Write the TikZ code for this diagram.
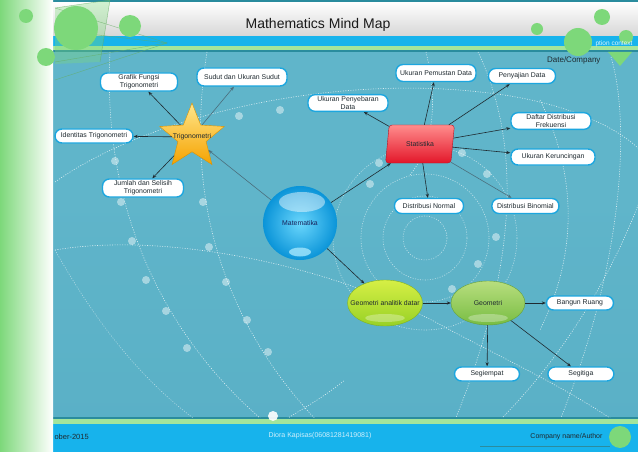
\documentclass[tikz,border=0pt]{standalone}
\usepackage{fontspec}
\setmainfont{Liberation Sans}
\usetikzlibrary{arrows.meta,positioning,shapes.geometric}
\definecolor{Body}{HTML}{60B5CA}
\definecolor{BodyDeep}{HTML}{57AEC5}
\definecolor{Band}{HTML}{17B3EC}
\definecolor{BandGreen}{HTML}{A3E59C}
\definecolor{Rule}{HTML}{2A8C9E}
\definecolor{Deco}{HTML}{7DD87A}
\definecolor{LeafLine}{HTML}{1CA6DF}
\definecolor{Ink}{HTML}{1F2A30}
\definecolor{InkSoft}{HTML}{4B6F7D}
\definecolor{StarTop}{HTML}{FFE78C}
\definecolor{StarBot}{HTML}{F5A200}
\definecolor{StatTop}{HTML}{FF8C8C}
\definecolor{StatBot}{HTML}{E3172A}
\definecolor{GadTop}{HTML}{D6EF45}
\definecolor{GadBot}{HTML}{98D126}
\definecolor{GeoTop}{HTML}{B8DE7E}
\definecolor{GeoBot}{HTML}{78BD43}
\definecolor{BallIn}{HTML}{6AD6FC}
\definecolor{BallOut}{HTML}{0A94D8}

\begin{document}
\begin{tikzpicture}[x=1pt,y=-1pt,
      mapfont/.style={font=\fontsize{6.9}{7.6}\selectfont},
      leaf/.style={draw=LeafLine,line width=1.4pt,fill=white,rounded corners=7pt,
        align=center,inner sep=2pt,minimum height=14pt,mapfont,text=Ink},
      arrow/.style={-{Stealth[length=4pt,width=3.2pt]},color=Ink,line width=0.6pt},
      faint/.style={arrow,color=InkSoft},
      dots/.style={white,dash pattern=on 1pt off 1.5pt,line width=0.6pt,opacity=.75},
      bead/.style={fill=white,opacity=.45}
    ]
      \useasboundingbox (0,0) rectangle (638,452);
      % frame
      \fill[Body] (53,52) rectangle (638,418);
      \shade[top color=Body,bottom color=BodyDeep,opacity=.6] (53,200) rectangle (638,418);
      \shade[top color=white,bottom color=black!16] (53,2) rectangle (638,36);
      \fill[Rule] (53,0) rectangle (638,2);
      \fill[Band] (53,36) rectangle (638,46);
      \fill[BandGreen] (53,46) rectangle (638,50);
      \fill[Rule] (53,50) rectangle (638,52);
      \fill[Rule] (53,417) rectangle (638,419);
      \fill[BandGreen] (53,419) rectangle (638,424);
      \fill[Band] (53,424) rectangle (638,452);
      \shade[left color=Deco,right color=white] (0,0) rectangle (53,452);

      % dotted background curves
      \begin{scope}
        \clip (53,52) rectangle (638,417);
        \draw[dots] (55,182) .. controls (150,115) and (330,75) .. (480,92);
        \draw[dots] (480,92) .. controls (560,100) and (615,125) .. (640,150);
        \draw[dots] (55,250) .. controls (160,232) and (330,262) .. (450,330);
        \draw[dots] (450,330) .. controls (530,372) and (590,400) .. (640,440);
        \draw[dots] (110,52) .. controls (100,250) and (200,370) .. (272,428);
        \draw[dots] (207,52) .. controls (180,220) and (240,340) .. (318,422);
        \draw[dots,opacity=.5] (55,250) .. controls (100,330) and (150,390) .. (210,430);
        \draw[dots] (272,428) .. controls (300,410) and (320,400) .. (345,380);
        \foreach \r in {22,42,64,92}
          \draw[dots,opacity=.6] (425,238) circle (\r);
        \draw[dots] (426,52) .. controls (440,110) and (430,150) .. (410,175);
        \draw[dots] (478,52) .. controls (520,140) and (520,260) .. (455,420);
        \draw[dots] (540,100) .. controls (575,170) and (580,250) .. (540,330);
        \draw[dots] (611,57) .. controls (630,120) and (625,260) .. (560,420);
        \draw[dots] (640,200) .. controls (610,280) and (560,360) .. (500,420);
      \end{scope}
      \foreach \p in {(239,116),(280,110),(115,161),(121,202),(203,202),(379,163),
          (370,184),(462,153),(487,174),(132,241),(209,247),(146,280),(226,282),
          (166,311),(247,320),(187,348),(268,352),(496,237),(478,264),(452,289)}
        \fill[bead] \p circle (4);
      \fill[white,opacity=.9] (273,416) circle (5);

      % green decoration
      \fill[Deco,opacity=.35] (55,8) -- (110,0) -- (100,62) -- (55,64) -- cycle;
      \draw[Deco!80!black,opacity=.7] (55,8) -- (110,0) -- (100,62);
      \foreach \y in {8,30,62,80}
        \draw[Deco!80!black,opacity=.7] (55,\y) -- (167,43);
      \fill[Deco] (76,28) circle (22);
      \fill[Deco] (26,16) circle (7);
      \fill[Deco] (130,26) circle (11);
      \fill[Deco] (46,57) circle (9);

      % header and footer texts
      \node[font=\fontsize{14}{16}\selectfont,text=black!90] (title) at (318,25) {Mathematics Mind Map};
      \fill[Deco] (537,29) circle (6);
      \fill[Deco] (602,17) circle (8);
      \fill[Deco] (626,37) circle (7);
      \node[anchor=east,font=\fontsize{6.5}{8}\selectfont,text=white!85!Band] (ctx) at (636,44) {ption context};
      \fill[Deco] (578,42) circle (14);
      \fill[Deco] (608,52) -- (632,52) -- (620,66) -- cycle;
      \node[anchor=east,font=\fontsize{8}{9}\selectfont,text=Ink] (date) at (604,60) {Date/Company};
      \node[anchor=west,font=\fontsize{7.5}{9}\selectfont,text=Ink] (day) at (51,437) {ober-2015};
      \node[font=\fontsize{7}{8}\selectfont,text=white!80!Band] (auth) at (320,436) {Diora Kapisas(06081281419081)};
      \draw[Rule] (480,446) -- (610,446);
      \node[anchor=east,font=\fontsize{7}{8}\selectfont,text=Ink] (comp) at (606,437) {Company name/Author};
      \fill[Deco] (620,437) circle (11);

      % main nodes
      \node[circle,minimum size=74pt,inner sep=0pt,shading=radial,inner color=BallIn,
        outer color=BallOut,mapfont,text=Ink!80!blue] (mat) at (300,223) {Matematika};
      \fill[white,opacity=.45] (302,202) ellipse (23 and 10);
      \fill[BallIn!60!white,opacity=.8] (300,252) ellipse (11 and 4.5);
      \node[star,star points=5,star point ratio=2.3,minimum size=68pt,inner sep=0pt,
        top color=StarTop,bottom color=StarBot,draw=StarBot!90!black,
        label={[mapfont,text=Ink]center:Trigonometri}] (trig) at (192,137) {};
      \node[trapezium,trapezium left angle=72,trapezium right angle=108,trapezium stretches=true,
        minimum width=69pt,minimum height=38pt,inner sep=0pt,rounded corners=3pt,
        top color=StatTop,bottom color=StatBot,draw=StatBot!80!black,mapfont,text=Ink] (stat) at (420,144) {Statistika};
      \node[ellipse,minimum width=75pt,minimum height=46pt,inner sep=0pt,
        top color=GadTop,bottom color=GadBot,draw=GadBot!85!black,
        label={[mapfont,text=Ink]center:Geometri analitik datar}] (gad) at (385,303) {};
      \fill[white,opacity=.3] (385,318) ellipse (20 and 4);
      \node[ellipse,minimum width=74pt,minimum height=44pt,inner sep=0pt,
        top color=GeoTop,bottom color=GeoBot,draw=GeoBot!85!black,
        label={[mapfont,text=Ink]center:Geometri}] (geo) at (488,303) {};
      \fill[white,opacity=.3] (488,318) ellipse (20 and 4);

      % leaves
      \node[leaf,minimum width=77pt] (gfx) at (139,82) {Grafik Fungsi\\Trigonometri};
      \node[leaf,minimum width=90pt,minimum height=18pt] (sud) at (242,77) {Sudut dan Ukuran Sudut};
      \node[leaf,minimum width=78pt] (idt) at (94,136) {Identitas Trigonometri};
      \node[leaf,minimum width=81pt] (jml) at (143,188) {Jumlah dan Selisih\\Trigonometri};
      \node[leaf,minimum width=80pt] (pny) at (348,103) {Ukuran Penyebaran\\Data};
      \node[leaf,minimum width=80pt,minimum height=17pt] (pms) at (436,73) {Ukuran Pemustan Data};
      \node[leaf,minimum width=67pt,minimum height=15pt] (saj) at (522,76) {Penyajian Data};
      \node[leaf,minimum width=80pt] (dft) at (551,121) {Daftar Distribusi\\Frekuensi};
      \node[leaf,minimum width=84pt,minimum height=16pt] (krc) at (553,157) {Ukuran Keruncingan};
      \node[leaf,minimum width=69pt,minimum height=15pt] (nrm) at (429,206) {Distribusi Normal};
      \node[leaf,minimum width=67pt,minimum height=15pt,right=27pt of nrm] (bin) {Distribusi Binomial};
      \node[leaf,minimum width=67pt] (bgr) at (580,303) {Bangun Ruang};
      \node[leaf,minimum width=65pt] (sgm) at (487,374) {Segiempat};
      \node[leaf,minimum width=66pt,right=27pt of sgm] (sgt) {Segitiga};

      % connectors
      \draw[faint] (mat) -- (trig);
      \draw[arrow] (mat) -- (stat);
      \draw[arrow] (mat) -- (gad);
      \draw[arrow] (gad) -- (geo);
      \draw[arrow] (trig) -- (gfx);
      \draw[faint] (trig) -- (sud);
      \draw[arrow] (trig) -- (idt);
      \draw[arrow] (trig) -- (jml);
      \draw[arrow] (stat) -- (pny);
      \draw[arrow] (stat) -- (pms);
      \draw[arrow] (stat) -- (saj);
      \draw[arrow] (stat) -- (dft);
      \draw[arrow] (stat) -- (krc);
      \draw[arrow] (stat) -- (nrm);
      \draw[faint] (stat) -- (bin);
      \draw[arrow] (geo) -- (bgr);
      \draw[arrow] (geo) -- (sgm);
      \draw[arrow] (geo) -- (sgt);
    \end{tikzpicture}
\end{document}
